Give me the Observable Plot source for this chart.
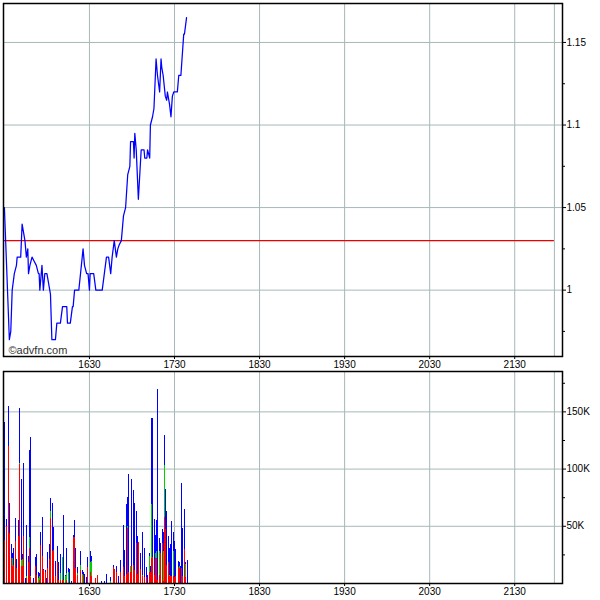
<!DOCTYPE html>
<html><head><meta charset="utf-8">
<script src="https://cdn.jsdelivr.net/npm/d3@7"></script>
<script src="https://cdn.jsdelivr.net/npm/@observablehq/plot@0.6"></script>
<style>
html,body{margin:0;padding:0;background:#fff;}
#chart{position:relative;width:600px;height:600px;background:#fff;}
#chart svg{display:block;}
</style></head><body><div id="chart"></div>
<script>
// ---- price (top panel) ----
const priceTime = ["15:30:00","15:33:30","15:34:30","15:35:30","15:37:00","15:38:30","15:39:00","15:41:30","15:42:30","15:43:30","15:44:30","15:45:30","15:46:30","15:47:00","15:48:00","15:49:30","15:51:00","15:52:30","15:54:00","15:54:30","15:55:00","15:56:30","15:57:30","15:58:30","16:00:00","16:02:00","16:02:30","16:03:30","16:06:00","16:07:00","16:09:30","16:11:00","16:14:00","16:14:30","16:16:30","16:18:00","16:18:30","16:19:30","16:22:30","16:25:30","16:26:30","16:28:00","16:29:00","16:30:00","16:30:30","16:33:00","16:34:30","16:38:00","16:39:00","16:40:30","16:42:00","16:43:30","16:45:00","16:46:00","16:47:30","16:49:00","16:50:00","16:51:00","16:52:30","16:54:00","16:55:30","16:57:00","16:58:30","16:59:00","17:01:00","17:01:30","17:02:00","17:03:00","17:04:30","17:05:30","17:06:30","17:08:30","17:09:00","17:10:30","17:11:00","17:12:30","17:13:00","17:14:30","17:15:30","17:17:00","17:18:00","17:19:30","17:20:30","17:21:00","17:22:00","17:23:30","17:24:30","17:25:00","17:26:30","17:27:30","17:28:30","17:29:30","17:32:00","17:33:00","17:34:30","17:36:30","17:37:00","17:38:30"];
const priceValue = [1.05,0.97,0.975,1.0,1.01,1.015,1.02,1.02,1.04,1.035,1.03,1.02,1.025,1.01,1.015,1.02,1.0175,1.015,1.01,1.01,1.0,1.015,1.0,1.01,1.01,1.0,0.9975,0.97,0.97,0.98,0.98,0.99,0.99,0.98,0.98,0.99,0.99,1.0,1.0,1.025,1.015,1.01,1.01,1.0,1.01,1.01,1.0,1.0,1.0,1.01,1.02,1.02,1.01,1.02,1.03,1.02,1.025,1.0275,1.03,1.045,1.05,1.07,1.075,1.09,1.09,1.08,1.095,1.085,1.055,1.07,1.085,1.085,1.08,1.08,1.085,1.08,1.10,1.105,1.11,1.14,1.13,1.12,1.14,1.135,1.13,1.1175,1.115,1.12,1.1125,1.105,1.1175,1.12,1.12,1.13,1.13,1.155,1.155,1.165];
const refPrice = 1.03;

// ---- volume (bottom panel), thousands of shares ----
const volTime = ["15:30:00","15:31:10","15:32:50","15:33:40","15:35:00","15:35:40","15:36:20","15:37:50","15:38:30","15:40:00","15:40:40","15:42:00","15:42:50","15:43:30","15:44:50","15:45:30","15:47:00","15:47:40","15:48:20","15:50:30","15:52:00","15:52:40","15:54:00","15:54:50","15:55:30","15:56:50","15:57:30","15:59:00","15:59:40","16:00:20","16:01:50","16:02:30","16:04:00","16:04:40","16:06:00","16:07:30","16:08:10","16:09:30","16:11:00","16:11:40","16:13:00","16:13:50","16:15:10","16:15:50","16:17:20","16:18:40","16:19:30","16:20:10","16:21:30","16:23:40","16:25:00","16:25:50","16:26:30","16:27:50","16:28:40","16:30:40","16:31:20","16:34:10","16:35:40","16:38:30","16:40:30","16:42:00","16:44:50","16:47:00","16:47:40","16:49:00","16:50:30","16:51:50","16:54:00","16:54:40","16:56:10","16:56:50","16:57:30","16:58:50","16:59:40","17:01:00","17:01:40","17:03:10","17:03:50","17:04:30","17:06:00","17:07:20","17:08:50","17:10:10","17:10:50","17:12:20","17:13:00","17:13:40","17:14:30","17:15:50","17:16:30","17:17:10","17:18:00","17:19:20","17:20:00","17:21:30","17:22:10","17:22:50","17:23:30","17:24:20","17:25:40","17:26:20","17:27:10","17:27:50","17:29:10","17:30:00","17:30:40","17:32:50","17:33:30","17:34:10","17:34:50","17:35:30","17:37:00","17:37:40","17:39:10"];
const volRed   = [38,50,120,44,22,15,16,37,13,41,104,15,15,41,0,4,18,31,5,0,15,7,0,3,33,24,11,10,0,13,21,57,28,29,6,18,3,3,3,3,0,3,0,0,0,40,40,13,7,11,0,7,0,0,14,10,6,4,7,0,0,0,0,14,12,10,0,10,14,6,8,48,10,10,15,16,11,35,8,36,12,6,5,5,0,10,10,22,23,7,22,22,3,7,26,35,2,58,47,16,18,6,6,6,6,5,6,14,13,0,13,6,30,5,0];
const volGreen = [0,0,0,0,0,7,0,0,0,0,1,5,6,0,0,2,0,9,1,0,0,0,4,3,0,0,0,0,0,0,0,6,0,0,0,0,0,6,20,0,6,6,10,0,0,0,0,0,2,5,8,0,0,0,0,8,13,0,0,0,0,0,2,0,0,0,0,0,0,0,0,2,0,5,0,0,0,0,0,0,0,1,0,0,0,14,0,47,0,0,4,6,0,21,0,0,26,45,0,0,0,1,0,0,22,0,0,0,2,0,0,0,0,12,0];
const volBlue  = [103,6,35,26,12,4,15,20,8,14,48,71,4,64,4,45,6,76,122,4,8,18,6,3,12,34,1,1,4,14,13,11,42,20,13,14,15,16,0,56,1,22,3,12,2,2,15,18,5,12,3,3,8,5,9,10,5,0,0,2,2,8,3,2,0,5,6,10,37,23,61,25,85,0,76,65,59,28,33,0,14,38,26,9,7,2,5,75,121,49,16,27,167,11,9,12,17,26,35,47,23,24,28,48,17,32,24,5,3,15,74,42,35,1,20];

// ---- axes / grid ----
const xDomain = ["15:29:22", "22:03:42"];
const xTicks = ["16:30", "17:30", "18:30", "19:30", "20:30", "21:30"];
const sessionOpen = "15:29:22";
const sessionClose = "21:58";
const priceDomain = [0.9598, 1.1736];
const priceTicks = [1, 1.05, 1.1, 1.15];
const priceMinorTicks = [0.975, 1.025, 1.075, 1.125];
const volDomain = [0, 185.3];
const volTicks = [50, 100, 150];
const volMinorTicks = [25, 75, 125, 175];
const copyright = "©advfn.com";

const T = s => { const [h, m, sec = 0] = s.split(":").map(Number); return new Date(Date.UTC(2000, 0, 1, h, m, sec)); };
const gridColor = "#a6b8b8";
const fmtTime = d3.utcFormat("%H%M");
const font = "'Liberation Sans', Arial, sans-serif";
const gridX = [...xTicks, sessionClose].map(T);

const priceData = priceTime.map((t, i) => ({t: T(t), v: priceValue[i]}));

const topChart = Plot.plot({
  width: 600, height: 370,
  marginLeft: 3, marginTop: 3, marginRight: 38, marginBottom: 14,
  style: {fontFamily: font, fontSize: "10px", background: "transparent", overflow: "visible", color: "black"},
  x: {type: "utc", domain: xDomain.map(T)},
  y: {domain: priceDomain},
  marks: [
    Plot.ruleX(gridX, {stroke: gridColor, strokeWidth: 1}),
    Plot.ruleY(priceTicks, {stroke: gridColor, strokeWidth: 1}),
    Plot.ruleY([{y: refPrice, x1: T(sessionOpen), x2: T(sessionClose)}], {y: "y", x1: "x1", x2: "x2", stroke: "#ee0000", strokeWidth: 1.2}),
    Plot.line(priceData, {x: "t", y: "v", stroke: "#0000ff", strokeWidth: 1.25}),
    Plot.frame({stroke: "black", strokeWidth: 1.5}),
    Plot.axisX({ticks: xTicks.map(T), tickFormat: fmtTime, tickSize: 3, tickPadding: 1, label: null, fontSize: 10}),
    Plot.axisY({anchor: "right", ticks: priceTicks, tickSize: 3, tickPadding: 1, tickFormat: d3.format("~g"), label: null, fontSize: 10}),
    Plot.axisY({anchor: "right", ticks: priceMinorTicks, tickSize: 2, tickFormat: () => "", label: null}),
    Plot.text([copyright], {frameAnchor: "bottom-left", dx: 5, dy: -3, fontSize: 11, fill: "#333", textAnchor: "start", lineAnchor: "bottom"})
  ]
});

// stacked bars built from the three series
const bars = [];
volTime.forEach((t, i) => {
  let base = 0;
  [["#ff0000", volRed[i]], ["#00d000", volGreen[i]], ["#0000ff", volBlue[i]]].forEach(([c, v]) => {
    if (v > 0) { bars.push({t: T(t), y1: base, y2: base + v, c}); base += v; }
  });
});

const bottomChart = Plot.plot({
  width: 600, height: 230,
  marginLeft: 3, marginTop: 1, marginRight: 38, marginBottom: 17,
  style: {fontFamily: font, fontSize: "10px", background: "transparent", overflow: "visible", color: "black"},
  x: {type: "utc", domain: xDomain.map(T)},
  y: {domain: volDomain},
  marks: [
    Plot.ruleX(gridX, {stroke: gridColor, strokeWidth: 1}),
    Plot.ruleY(volTicks, {stroke: gridColor, strokeWidth: 1}),
    Plot.ruleX(bars, {x: "t", y1: "y1", y2: "y2", stroke: "c", strokeWidth: 1, shapeRendering: "crispEdges"}),
    Plot.frame({stroke: "black", strokeWidth: 1.5}),
    Plot.axisX({ticks: xTicks.map(T), tickFormat: fmtTime, tickSize: 3, tickPadding: 1, label: null, fontSize: 10}),
    Plot.axisY({anchor: "right", ticks: volTicks, tickSize: 3, tickPadding: 1, tickFormat: d => d + "K", label: null, fontSize: 10}),
    Plot.axisY({anchor: "right", ticks: volMinorTicks, tickSize: 2, tickFormat: () => "", label: null})
  ]
});

const root = document.getElementById("chart");
root.appendChild(topChart);
root.appendChild(bottomChart);
</script></body></html>
